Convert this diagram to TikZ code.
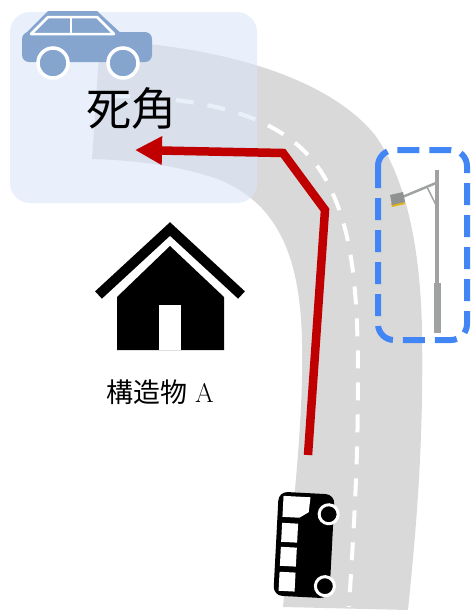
\documentclass[tikz,border=0pt]{standalone}
\usepackage{fontspec}
\newfontfamily\cjk{Noto Sans CJK JP}
\usetikzlibrary{arrows.meta}
\definecolor{roadgray}{RGB}{217,217,217}
\definecolor{carblue}{RGB}{133,165,207}
\definecolor{spotblue}{RGB}{218,230,248}
\definecolor{lampblue}{RGB}{66,133,244}
\definecolor{routered}{RGB}{192,0,0}
\definecolor{polegray}{RGB}{160,162,162}
\definecolor{lampyellow}{RGB}{225,180,20}

\begin{document}
\begin{tikzpicture}[x=1pt, y=-1pt,
  carwheel/.style={fill=carblue, draw=white, line width=3.5pt},
  buswheel/.style={fill=black, draw=white, line width=3pt}]
\useasboundingbox (0,0) rectangle (473,614);

\fill[roadgray] (100,40) .. controls (230,47) and (330,80) .. (375,135)
  .. controls (400,170) and (420,230) .. (422,330)
  .. controls (424,450) and (415,540) .. (408,610)
  -- (283,607) .. controls (292,520) and (304,420) .. (302,340)
  .. controls (300,260) and (280,205) .. (220,180)
  .. controls (180,165) and (130,160) .. (92,159) -- cycle;
\draw[white, line width=4pt, dash pattern=on 18pt off 14pt]
  (112,96) .. controls (240,98) and (305,130) .. (332,192)
  .. controls (352,235) and (358,290) .. (358,380)
  .. controls (358,470) and (353,540) .. (349,607);

\fill[spotblue, opacity=0.6, rounded corners=20pt] (10,12) rectangle (257,203);

\fill[carblue, rounded corners=7pt] (22,62) rectangle (152,32);
\fill[carblue] (23,36) -- (48,11) -- (97,11) -- (124,36) -- cycle;
\draw[white, line width=2.5pt, line join=round] (31,34) -- (48,17) -- (97,17) -- (114,34) -- cycle;
\draw[white, line width=2.5pt] (71,17) -- (71,34);
\filldraw[carwheel] (53,63) circle (15);
\filldraw[carwheel] (123,63) circle (15);

\node (blind) at (131,108) {\cjk\fontsize{45}{45}\selectfont 死角};

\coordinate (busfront) at (308,455);
\coordinate (bendlow) at (325,210);
\coordinate (bendhigh) at (283,153);
\coordinate (spot) at (135,150);
\draw[routered, line width=8.5pt, -{Triangle[length=27pt,width=27pt]}]
  (busfront) -- (bendlow) -- (bendhigh) -- (spot);

\draw[line width=10pt] (98.5,295) -- (170,229) -- (241.5,295);
\fill (170,246) -- (117,297) -- (117,350) -- (224,350) -- (224,297) -- cycle;
\fill[white] (159,305) rectangle (181,350);
\node (structA) at (160,392) {\fontsize{27}{27}\selectfont{\cjk 構造物}\hspace{8pt}A};

\draw[lampblue, line width=6pt, dash pattern=on 22pt off 10pt, rounded corners=16pt]
  (378,150) rectangle (467,340);
\draw[polegray, line width=4pt] (437,170) -- (437,333);
\draw[polegray, line width=7pt] (437,283) -- (437,333);
\draw[polegray, line width=2.5pt] (436,183) -- (400,198);
\draw[polegray, line width=1.5pt] (427,187) -- (437,207);
\fill[lampyellow] (391,203) -- (404,200) -- (405,204) -- (392,207) -- cycle;
\fill[polegray!90!black] (390,195) -- (403,192) -- (405,202) -- (392,205) -- cycle;

\begin{scope}[shift={(304,545)}, rotate=-3]
\fill[rounded corners=9pt] (-28,-52) rectangle (28,52);
\fill[white] (-23,-48) -- (4,-48) -- (3,-33) -- (-6,-27) -- (-23,-27) -- cycle;
\foreach \y in {-21,3,28}
  \fill[white] (-23,\y) rectangle (-7,\y+19);
\filldraw[buswheel] (23,-32) circle (9.5);
\filldraw[buswheel] (23,40) circle (9.5);
\end{scope}

\end{tikzpicture}
\end{document}
